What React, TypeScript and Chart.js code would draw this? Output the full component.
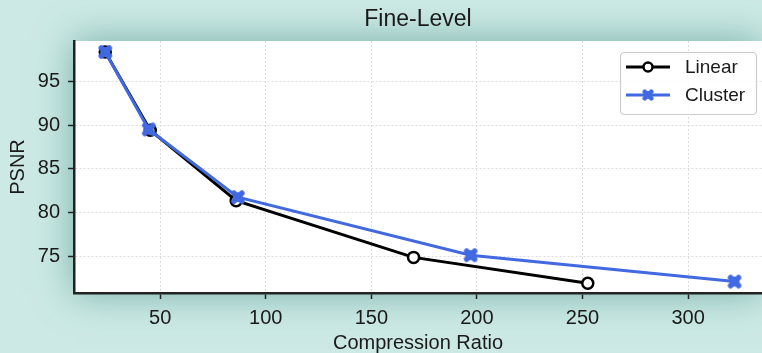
import React, { useEffect, useRef } from "react";
import { Chart, registerables } from "chart.js";

Chart.register(...registerables);

const linearX = [24, 45.3, 86, 170, 252.5];
const linearY = [98.3, 89.4, 81.4, 74.95, 72.0];
const clusterX = [24, 44.6, 86.8, 197, 322];
const clusterY = [98.3, 89.5, 81.8, 75.2, 72.2];
const xTicks = [50, 100, 150, 200, 250, 300];
const yTicks = [75, 80, 85, 90, 95];
const titleText = "Fine-Level";
const xLabel = "Compression Ratio";
const yLabel = "PSNR";
const seriesNames = ["Linear", "Cluster"];

const FONT = "'Liberation Sans', Arial, sans-serif";
const BLUE = "#4169e1";

function makeX(): HTMLCanvasElement {
  const c = document.createElement("canvas");
  c.width = 16;
  c.height = 16;
  const g = c.getContext("2d")!;
  g.strokeStyle = BLUE;
  g.lineWidth = 5.5;
  g.lineCap = "round";
  g.beginPath();
  g.moveTo(4, 4);
  g.lineTo(12, 12);
  g.moveTo(4, 12);
  g.lineTo(12, 4);
  g.stroke();
  g.fillStyle = BLUE;
  g.beginPath();
  g.arc(8, 8, 5, 0, Math.PI * 2);
  g.fill();
  return c;
}

export default function App() {
  const ref = useRef<HTMLCanvasElement>(null);
  useEffect(() => {
    const xMarker = makeX();
    const bgPlugin = {
      id: "bg",
      beforeDraw(chart: any) {
        const { ctx, width, height, chartArea: a } = chart;
        ctx.save();
        ctx.fillStyle = "#cce9e5";
        ctx.fillRect(0, 0, width, height);
        ctx.shadowColor = "rgba(60,135,125,0.6)";
        ctx.shadowBlur = 36;
        ctx.fillStyle = "#ffffff";
        ctx.fillRect(a.left, a.top, a.right - a.left, a.bottom - a.top);
        ctx.shadowBlur = 0;
        ctx.shadowColor = "transparent";
        ctx.fillRect(a.left, a.top, a.right - a.left, a.bottom - a.top);
        // title
        ctx.fillStyle = "#1a1a1a";
        ctx.font = `23px ${FONT}`;
        ctx.textAlign = "center";
        ctx.textBaseline = "middle";
        ctx.fillText(titleText, (a.left + a.right) / 2, 20);
        ctx.restore();
      },
      afterDraw(chart: any) {
        const { ctx } = chart;
        const bx = 620, by = 52, bw = 136, bh = 62;
        ctx.save();
        ctx.fillStyle = "rgba(255,255,255,0.85)";
        ctx.strokeStyle = "#cccccc";
        ctx.lineWidth = 1.2;
        ctx.beginPath();
        (ctx as any).roundRect(bx + 0.5, by + 0.5, bw, bh, 4);
        ctx.fill();
        ctx.stroke();
        const rows = [67, 95];
        ctx.font = `19px ${FONT}`;
        ctx.textBaseline = "middle";
        ctx.textAlign = "left";
        rows.forEach((ry, i) => {
          const ds = chart.data.datasets[i];
          ctx.strokeStyle = ds.borderColor;
          ctx.lineWidth = 3;
          ctx.beginPath();
          ctx.moveTo(626, ry);
          ctx.lineTo(670, ry);
          ctx.stroke();
          if (i === 0) {
            ctx.fillStyle = "#fff";
            ctx.strokeStyle = "#000";
            ctx.lineWidth = 2.5;
            ctx.beginPath();
            ctx.arc(648, ry, 4.5, 0, Math.PI * 2);
            ctx.fill();
            ctx.stroke();
          } else {
            ctx.drawImage(xMarker, 648 - 6.5, ry - 6.5, 13, 13);
          }
          ctx.fillStyle = "#1a1a1a";
          ctx.fillText(seriesNames[i], 685, ry + 1);
        });
        ctx.restore();
      },
    };

    const gridOpts = {
      color: "#dcdcdc",
      lineWidth: 1,
      tickLength: 6,
      tickColor: "#222",
      tickWidth: 1.5,
      tickBorderDash: [],
    };
    const borderOpts = { color: "#222", width: 2.5, dash: [2, 2] };

    const chart = new Chart(ref.current!, {
      type: "line",
      data: {
        datasets: [
          {
            label: seriesNames[0],
            data: linearX.map((x, i) => ({ x, y: linearY[i] })),
            borderColor: "#000000",
            borderWidth: 3,
            pointRadius: 5.5,
            pointBorderWidth: 2.5,
            pointBackgroundColor: "#ffffff",
            pointBorderColor: "#000000",
            order: 2,
          },
          {
            label: seriesNames[1],
            data: clusterX.map((x, i) => ({ x, y: clusterY[i] })),
            borderColor: BLUE,
            borderWidth: 3,
            pointStyle: xMarker as any,
            pointRadius: 8,
            order: 1,
          },
        ],
      },
      options: {
        animation: false,
        responsive: true,
        maintainAspectRatio: false,
        layout: { autoPadding: false, padding: { top: 41, left: 0, right: 0, bottom: 0 } },
        plugins: { legend: { display: false }, tooltip: { enabled: false } },
        scales: {
          x: {
            type: "linear",
            min: 9.2,
            max: 335,
            afterFit(s: any) {
              s.height = 60;
              s.paddingLeft = 0;
              s.paddingRight = 0;
            },
            afterBuildTicks(s: any) {
              s.ticks = xTicks.map((v) => ({ value: v }));
            },
            grid: gridOpts,
            border: borderOpts,
            ticks: {
              color: "#1a1a1a",
              font: { family: FONT, size: 20 },
              padding: 7,
              maxRotation: 0,
            },
            title: {
              display: true,
              text: xLabel,
              color: "#1a1a1a",
              font: { family: FONT, size: 20, lineHeight: 1 },
              padding: { top: 0, bottom: 0 },
            },
          },
          y: {
            type: "linear",
            min: 70.9,
            max: 99.55,
            afterFit(s: any) {
              s.width = 74;
              s.paddingTop = 0;
              s.paddingBottom = 0;
            },
            afterBuildTicks(s: any) {
              s.ticks = yTicks.map((v) => ({ value: v }));
            },
            grid: gridOpts,
            border: borderOpts,
            ticks: {
              color: "#1a1a1a",
              font: { family: FONT, size: 20 },
              padding: 8,
            },
            title: {
              display: true,
              text: yLabel,
              color: "#1a1a1a",
              font: { family: FONT, size: 20 },
              padding: { top: 6, bottom: 0 },
            },
          },
        },
      },
      plugins: [bgPlugin],
    });
    return () => chart.destroy();
  }, []);

  return (
    <div style={{ position: "absolute", left: 0, top: 0, width: 762, height: 353 }}>
      <canvas ref={ref} />
    </div>
  );
}
